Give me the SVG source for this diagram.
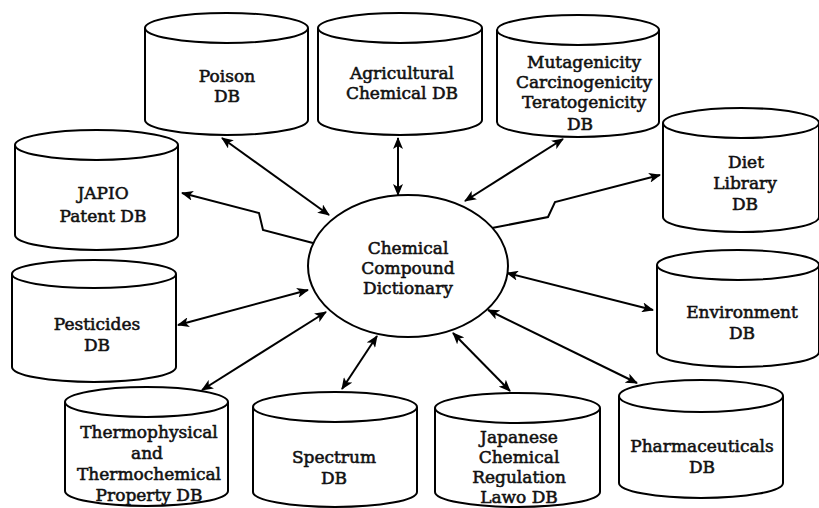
<svg xmlns="http://www.w3.org/2000/svg" width="819" height="508" viewBox="0 0 819 508">
  <style>
    .shape { fill: #fff; stroke: #000; stroke-width: 2; }
    .wire { fill: none; stroke: #000; stroke-width: 2; }
    .lbl { font-family: "DejaVu Serif", "Liberation Serif", serif; font-size: 17px; font-weight: normal; fill: #111; text-anchor: middle; stroke: #111; stroke-width: 0.55; }
  </style>
  <defs>
    <marker id="head" viewBox="0 0 12 10" refX="11" refY="5" markerWidth="12" markerHeight="10" markerUnits="userSpaceOnUse" orient="auto-start-reverse">
      <path d="M0,0 L12,5 L0,10 L3,5 z" fill="#000"/>
    </marker>
  </defs>
  <rect width="819" height="508" fill="#fff"/>

  <!-- connectors between the dictionary and the databases -->
  <g id="connectors" class="wire">
    <line x1="222" y1="138" x2="329" y2="215" marker-start="url(#head)" marker-end="url(#head)"/>
    <line x1="398" y1="138" x2="398" y2="195" marker-start="url(#head)" marker-end="url(#head)"/>
    <line x1="563" y1="139" x2="465" y2="201" marker-start="url(#head)" marker-end="url(#head)"/>
    <polyline points="182,193 259,213 263,230 313,243" marker-start="url(#head)"/>
    <polyline points="660,175 555,202 548,217 492,228" marker-start="url(#head)"/>
    <line x1="178" y1="325" x2="308" y2="290" marker-start="url(#head)" marker-end="url(#head)"/>
    <line x1="202" y1="390" x2="326" y2="312" marker-start="url(#head)" marker-end="url(#head)"/>
    <line x1="342" y1="389" x2="377" y2="336" marker-start="url(#head)" marker-end="url(#head)"/>
    <line x1="510" y1="391" x2="453" y2="333" marker-start="url(#head)" marker-end="url(#head)"/>
    <line x1="653" y1="310" x2="507" y2="273" marker-start="url(#head)" marker-end="url(#head)"/>
    <line x1="637" y1="383" x2="488" y2="310" marker-start="url(#head)" marker-end="url(#head)"/>
  </g>

  <!-- central dictionary -->
  <g id="dictionary">
    <ellipse class="shape" cx="408" cy="266" rx="100" ry="71"/>
    <text class="lbl" x="408" y="254">Chemical</text>
    <text class="lbl" x="408" y="274">Compound</text>
    <text class="lbl" x="408" y="294">Dictionary</text>
  </g>

  <g id="poison">
    <path class="shape" d="M145,28 L145,120 A81.5,15 0 0 0 308,120 L308,28"/>
    <ellipse class="shape" cx="226.5" cy="28" rx="81.5" ry="15"/>
    <text class="lbl" x="227" y="82">Poison</text>
    <text class="lbl" x="227" y="102">DB</text>
  </g>

  <g id="agricultural">
    <path class="shape" d="M318,28 L318,120 A82,15 0 0 0 482,120 L482,28"/>
    <ellipse class="shape" cx="400" cy="28" rx="82" ry="15"/>
    <text class="lbl" x="402" y="79">Agricultural</text>
    <text class="lbl" x="402" y="99">Chemical DB</text>
  </g>

  <g id="mutagenicity">
    <path class="shape" d="M497,30 L497,122 A81,15 0 0 0 659,122 L659,30"/>
    <ellipse class="shape" cx="578" cy="30" rx="81" ry="15"/>
    <text class="lbl" x="584" y="68">Mutagenicity</text>
    <text class="lbl" x="584" y="88">Carcinogenicity</text>
    <text class="lbl" x="584" y="108">Teratogenicity</text>
    <text class="lbl" x="580" y="130">DB</text>
  </g>

  <g id="diet">
    <path class="shape" d="M663,123 L663,217 A78,15 0 0 0 819,217 L819,123"/>
    <ellipse class="shape" cx="741" cy="123" rx="78" ry="15"/>
    <text class="lbl" x="746" y="168">Diet</text>
    <text class="lbl" x="745" y="189">Library</text>
    <text class="lbl" x="745" y="210">DB</text>
  </g>

  <g id="japio">
    <path class="shape" d="M15,145 L15,235 A81.5,15 0 0 0 178,235 L178,145"/>
    <ellipse class="shape" cx="96.5" cy="145" rx="81.5" ry="15"/>
    <text class="lbl" x="103" y="199">JAPIO</text>
    <text class="lbl" x="103" y="222">Patent DB</text>
  </g>

  <g id="pesticides">
    <path class="shape" d="M12,274 L12,367 A82,15 0 0 0 176,367 L176,274"/>
    <ellipse class="shape" cx="94" cy="274" rx="82" ry="14"/>
    <text class="lbl" x="97" y="330">Pesticides</text>
    <text class="lbl" x="97" y="351">DB</text>
  </g>

  <g id="environment">
    <path class="shape" d="M657,265 L657,352 A81,15 0 0 0 819,352 L819,265"/>
    <ellipse class="shape" cx="738" cy="265" rx="81" ry="15"/>
    <text class="lbl" x="742" y="318">Environment</text>
    <text class="lbl" x="742" y="339">DB</text>
  </g>

  <g id="thermo">
    <path class="shape" d="M65,402 L65,491 A81.5,15 0 0 0 228,491 L228,402"/>
    <ellipse class="shape" cx="146.5" cy="402" rx="81.5" ry="15"/>
    <text class="lbl" x="149" y="438">Thermophysical</text>
    <text class="lbl" x="147" y="459">and</text>
    <text class="lbl" x="149" y="480">Thermochemical</text>
    <text class="lbl" x="149" y="501">Property DB</text>
  </g>

  <g id="spectrum">
    <path class="shape" d="M253,407 L253,492 A82,15 0 0 0 417,492 L417,407"/>
    <ellipse class="shape" cx="335" cy="407" rx="82" ry="15"/>
    <text class="lbl" x="334" y="463">Spectrum</text>
    <text class="lbl" x="334" y="484">DB</text>
  </g>

  <g id="japanese">
    <path class="shape" d="M435,408 L435,492 A82.5,15 0 0 0 600,492 L600,408"/>
    <ellipse class="shape" cx="517.5" cy="408" rx="82.5" ry="15"/>
    <text class="lbl" x="519" y="443">Japanese</text>
    <text class="lbl" x="519" y="463">Chemical</text>
    <text class="lbl" x="519" y="483">Regulation</text>
    <text class="lbl" x="519" y="503">Lawo DB</text>
  </g>

  <g id="pharmaceuticals">
    <path class="shape" d="M619,396 L619,483 A82,15 0 0 0 783,483 L783,396"/>
    <ellipse class="shape" cx="701" cy="396" rx="82" ry="16"/>
    <text class="lbl" x="702" y="452">Pharmaceuticals</text>
    <text class="lbl" x="702" y="473">DB</text>
  </g>
</svg>
